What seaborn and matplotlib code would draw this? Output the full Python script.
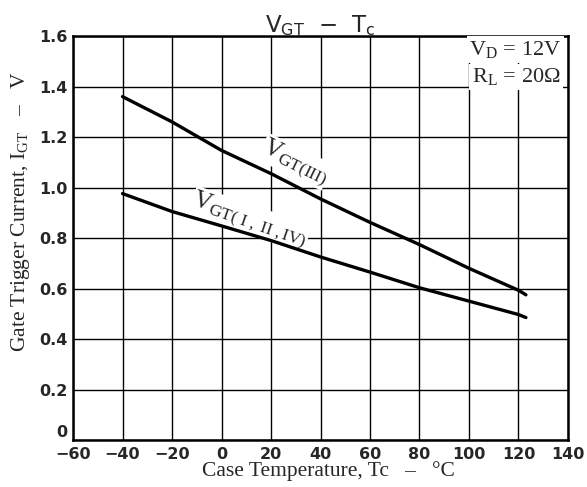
# V_GT - Tc, curvas de tension de disparo de compuerta vs temperatura de caja
import pandas as pd
import matplotlib
matplotlib.use("Agg")
import matplotlib.pyplot as plt
import seaborn as sns

# datos
temp_c = [-40, -20, 0, 20, 40, 60, 80, 100, 120, 123]
vgt_iii = [1.36, 1.26, 1.147, 1.055, 0.955, 0.862, 0.774, 0.68, 0.593, 0.575]
vgt_i_ii_iv = [0.976, 0.905, 0.848, 0.79, 0.725, 0.665, 0.603, 0.55, 0.497, 0.485]

x_ticks = [-60, -40, -20, 0, 20, 40, 60, 80, 100, 120, 140]
y_ticks = [0, 0.2, 0.4, 0.6, 0.8, 1.0, 1.2, 1.4, 1.6]
y_tick_labels = ["0", "0.2", "0.4", "0.6", "0.8", "1.0", "1.2", "1.4", "1.6"]

df = pd.DataFrame({
    "Tc": temp_c * 2,
    "VGT": vgt_iii + vgt_i_ii_iv,
    "curva": ["III"] * len(temp_c) + ["I,II,IV"] * len(temp_c),
})

sns.set_style("white")
plt.rcParams["font.family"] = ["DejaVu Sans"]
# mathtext: rm en serif (como el original), sf para el titulo en sans
plt.rcParams["mathtext.fontset"] = "custom"
plt.rcParams["mathtext.rm"] = "Liberation Serif"
plt.rcParams["mathtext.it"] = "Liberation Serif:italic"
plt.rcParams["mathtext.sf"] = "DejaVu Sans"

fig = plt.figure(figsize=(5.87, 4.87), dpi=100)
ax = fig.add_axes([0.1244, 0.0965, 0.8432, 0.8295])

sns.lineplot(data=df, x="Tc", y="VGT", units="curva", estimator=None,
             color="black", linewidth=2.4, ax=ax, legend=False)

ax.set_xlim(-60, 140)
ax.set_ylim(0, 1.6)
ax.set_xticks(x_ticks)
ax.set_yticks(y_ticks)
ax.set_yticklabels(y_tick_labels)
ax.grid(True, color="black", linewidth=1.0)
ax.set_axisbelow(True)
for s in ax.spines.values():
    s.set_color("black")
    s.set_linewidth(1.8)
ax.tick_params(length=0, pad=4, labelsize=11.5)
ax.tick_params(axis="x", pad=5)
for lab in ax.get_xticklabels() + ax.get_yticklabels():
    lab.set_fontweight("bold")
# el 0 del eje y va un poco arriba para no chocar con el -60
ax.get_yticklabels()[0].set_va("bottom")

serif = ["Liberation Serif", "DejaVu Serif"]
ax.set_xlabel("Case Temperature, Tc   –   °C", family=serif, fontsize=15.5)
ax.set_ylabel("Gate Trigger Current, I$_{\\rm GT}$   –   V", family=serif,
              fontsize=15.5)
ax.xaxis.set_label_coords(0.516, -0.052)
ax.yaxis.set_label_coords(-0.083, 0.565)
ax.set_title("$\\mathsf{V_{GT}\\ \\ -\\ \\ T_{c}}$", fontsize=16.5, pad=3)

# etiquetas de las curvas (fondo blanco tapa la reticula, no las curvas)
fondo = dict(facecolor="white", edgecolor="none", pad=0.5)
ax.text(29.7, 1.102, "V$_{\\rm GT(III)}$", family=serif, fontsize=18,
        rotation=-26, ha="center", va="center", bbox=fondo, zorder=1.5)
ax.text(11.5, 0.874, "V$_{\\rm GT(\\ I\\ ,\\ II\\ ,IV)}$", family=serif,
        fontsize=18, rotation=-19, ha="center", va="center", bbox=fondo,
        zorder=1.5)

# condiciones de prueba
caja = dict(facecolor="white", edgecolor="none", pad=2)
ax.text(137.5, 1.547, "V$_{\\rm D}$$\\,=\\,$12V", family=serif, fontsize=16,
        ha="right", va="center", bbox=caja)
ax.text(137, 1.438, "R$_{\\rm L}$$\\,=\\,$20Ω", family=serif, fontsize=16,
        ha="right", va="center", bbox=caja)

fig.savefig("out.png", dpi=100)
